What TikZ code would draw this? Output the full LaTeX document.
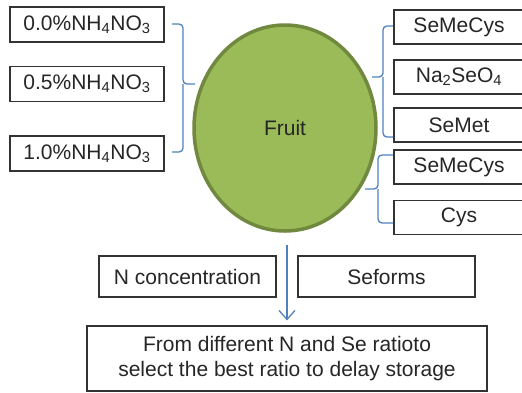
\documentclass[tikz,border=0pt]{standalone}
\usepackage{fontspec}
\setmainfont{Liberation Sans}
\usetikzlibrary{shapes.geometric,arrows.meta}
\definecolor{leafgreen}{HTML}{9BBB59}
\definecolor{leafdark}{HTML}{71893F}
\definecolor{bracketblue}{HTML}{4F81BD}
\definecolor{inkgray}{HTML}{262626}

\begin{document}
\begin{tikzpicture}[x=1pt,y=-1pt,font=\fontsize{21}{25}\selectfont,text=inkgray,
	box/.style={rectangle,draw=black!80,line width=1.2pt,fill=white,inner sep=0pt,minimum height=35pt},
	nbox/.style={box,minimum width=154pt},
	brace/.style={draw=bracketblue,line width=1.3pt,rounded corners=4pt},
	flow/.style={draw=bracketblue,line width=1.3pt,-{Straight Barb[length=9pt,width=16pt]}}]

    \useasboundingbox (0,0) rectangle (522,392);
    \clip (0,0) rectangle (522,392);

    % fruit in the middle
    \node[ellipse,fill=leafgreen,draw=leafdark,line width=3.5pt,inner sep=0pt,
          minimum width=182pt,minimum height=206pt] (fruit) at (285,128) {Fruit};

    % nitrogen levels
    \node[nbox] (n0) at (87,24.5) {0.0\%NH\textsubscript{4}NO\textsubscript{3}};
    \node[nbox] (n1) at (87,84) {0.5\%NH\textsubscript{4}NO\textsubscript{3}};
    \node[nbox] (n2) at (87,153.5) {1.0\%NH\textsubscript{4}NO\textsubscript{3}};

    % selenium forms, cut off at the right edge
    \foreach \nm/\yy/\txt in {se1/27/SeMeCys,se2/77/{Na\textsubscript{2}SeO\textsubscript{4}},se3/125/SeMet,se4/167/SeMeCys,se5/217.5/Cys}{
      \draw[draw=black!80,line width=1.2pt,fill=white] (394,\yy-17) rectangle (560,\yy+17);
      \node[inner sep=0pt] (\nm) at (459,\yy) {\txt};
    }

    \draw[brace] (172,24) -| (183,84) -- (195,84);
    \draw[brace] (172,152) -| (183,84);
    \draw[brace] (393,26) -| (383,77) -- (372,77);
    \draw[brace] (393,137) -| (383,77);
    \draw[brace] (393,155) -| (378,189) -- (365,189);
    \draw[brace] (393,223) -| (378,189);

    \node[box,minimum width=177pt,minimum height=41pt] (nconc) at (187.5,276.5) {N concentration};
    \node[box,minimum width=177pt,minimum height=41pt] (seforms) at (386.5,276.5) {Seforms};
    \node[box,minimum width=400pt,minimum height=65pt,align=center] (result) at (287,358.5)
        {From different N and Se ratioto\\select the best ratio to delay storage};

    \draw[flow,shorten <=12pt,shorten >=5pt] (result.north |- fruit.south) -- (result.north);

\end{tikzpicture}
\end{document}
